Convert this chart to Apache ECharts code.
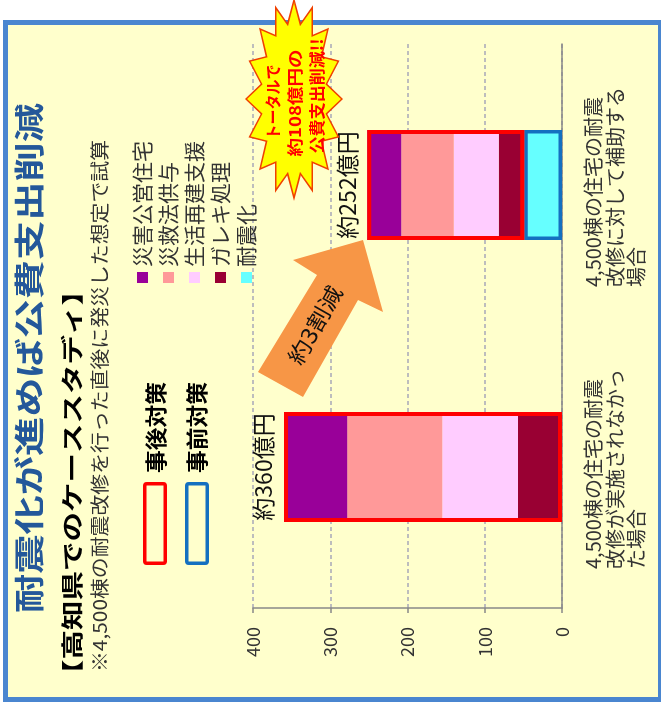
<!DOCTYPE html>
<html><head><meta charset="utf-8">
<script src="https://cdn.jsdelivr.net/npm/echarts@6/dist/echarts.min.js"></script>
<style>
html,body{margin:0;padding:0;background:#fff;overflow:hidden;width:661px;height:709px;}
#rot{position:absolute;left:0;top:0;width:709px;height:661px;transform-origin:0 0;transform:translateY(709px) rotate(-90deg);background:#fff;}
#frame{position:absolute;left:7px;top:3px;width:682px;height:660px;box-sizing:border-box;border:5px solid #4a86d0;background:#ffffcc;}
#chart{position:absolute;left:0;top:0;width:709px;height:661px;}
</style></head><body>
<div id="rot"><div id="frame"></div><div id="chart"></div></div>
<script>
// ---- data ----
const categories = ['4,500棟の住宅の耐震\n改修が実施されなかっ\nた場合', '4,500棟の住宅の耐震\n改修に対して補助する\n場合'];
const legendNames = ['災害公営住宅', '災救法供与', '生活再建支援', 'ガレキ処理', '耐震化'];
const taishinka = [0, 49];      // 耐震化
const gareki = [57, 33];        // ガレキ処理
const seikatsu = [98, 58];      // 生活再建支援
const saikyuho = [123, 68];     // 災救法供与
const saigaiKoei = [82, 44];    // 災害公営住宅
const valueMin = 0, valueMax = 400, valueStep = 100;

const JP = '"Noto Sans CJK JP", sans-serif';
const postSum = gareki.map((v, i) => v + seikatsu[i] + saikyuho[i] + saigaiKoei[i]);
const totals = postSum.map((v, i) => v + taishinka[i]);

const mctx = document.createElement('canvas').getContext('2d');
function fitScale(text, font, target) { mctx.font = font; return target / mctx.measureText(text).width; }
function txt(text, x, y, size, weight, color, target, align, extra) {
  const font = weight + ' ' + size + 'px ' + JP;
  const s = target ? fitScale(text, font, target) : 1;
  return Object.assign({
    type: 'text', x: x, y: y, scaleX: s, z: 100,
    style: { text: text, font: font, fill: color, align: align || 'left', verticalAlign: 'middle' }
  }, extra || {});
}
function starPoints(cx, cy, rxo, ryo, rxi, ryi, n, rot) {
  const pts = [];
  for (let i = 0; i < 2 * n; i++) {
    const a = rot + Math.PI * i / n;
    const o = i % 2 === 0;
    pts.push([cx + Math.cos(a) * (o ? rxo : rxi), cy + Math.sin(a) * (o ? ryo : ryi)]);
  }
  return pts;
}

const chart = echarts.init(document.getElementById('chart'), null, { renderer: 'canvas' });
const barW = 110;
const segColors = { '災害公営住宅': '#990099', '災救法供与': '#ff9999', '生活再建支援': '#ffccff', 'ガレキ処理': '#990033', '耐震化': '#66ffff' };
function seg(name, data, extraStyle) {
  return {
    name: name, type: 'bar', stack: 'main', barWidth: barW, barGap: '-100%',
    data: data.map(v => v === 0 ? { value: 0, itemStyle: { borderWidth: 0 } } : v),
    itemStyle: Object.assign({ color: segColors[name] }, extraStyle || {}),
    emphasis: { disabled: true }
  };
}

chart.setOption({
  animation: false,
  backgroundColor: 'transparent',
  grid: { left: 101, right: 44, top: 253, bottom: 99 },
  legend: {
    data: legendNames, orient: 'vertical', left: 421, top: 127, itemWidth: 11, itemHeight: 11, itemGap: 5,
    icon: 'rect', selectedMode: false, itemStyle: { borderWidth: 0 },
    textStyle: { fontFamily: JP, fontSize: 21, lineHeight: 21, color: '#333' }
  },
  xAxis: {
    type: 'category', data: categories,
    axisLine: { lineStyle: { color: '#888', width: 1.5 } },
    axisTick: { length: 6, lineStyle: { color: '#888', width: 1.5 } },
    axisLabel: {
      interval: 0, margin: 21, color: '#333', fontSize: 20, lineHeight: 21.5, fontFamily: JP,
      formatter: v => v.split('\n').map(s => '{a|' + s + '}').join('\n'),
      rich: { a: { width: 204, align: 'left', fontSize: 20, lineHeight: 21.5, fontFamily: JP, color: '#333' } }
    }
  },
  yAxis: {
    type: 'value', min: valueMin, max: valueMax, interval: valueStep,
    axisLine: { show: true, lineStyle: { color: '#888', width: 1.5 } },
    axisTick: { show: true, length: 5, lineStyle: { color: '#888', width: 1.5 } },
    axisLabel: { margin: 19, fontSize: 18, color: '#333', fontFamily: JP },
    splitLine: { lineStyle: { color: '#a8a8b8', width: 1.5, type: [4, 3] } }
  },
  series: [
    seg('耐震化', taishinka, { borderColor: '#1470c0', borderWidth: 3.5 }),
    seg('ガレキ処理', gareki),
    seg('生活再建支援', seikatsu),
    seg('災救法供与', saikyuho),
    seg('災害公営住宅', saigaiKoei),
    { name: 'base', type: 'bar', stack: 'box', barWidth: barW, barGap: '-100%', silent: true,
      data: taishinka, itemStyle: { color: 'rgba(0,0,0,0)' } },
    { name: '事後対策', type: 'bar', stack: 'box', barWidth: barW, barGap: '-100%', silent: true,
      data: postSum, itemStyle: { color: 'rgba(0,0,0,0)', borderColor: '#ff0000', borderWidth: 4 },
      label: { show: true, position: 'top', distance: 9, fontSize: 23, fontFamily: JP, color: '#111',
        formatter: p => '約' + totals[p.dataIndex] + '億円' } }
  ],
  graphic: { elements: [
    txt('耐震化が進めば公費支出削減', 96, 29, 30, 'bold', '#24589a', 510),
    txt('【高知県でのケーススタディ】', 20, 72, 22, 'bold', '#000', 413),
    txt('※4,500棟の耐震改修を行った直後に発災した想定で試算', 37, 100, 19, 'normal', '#333', 532),
    { type: 'rect', z: 100, shape: { x: 145.75, y: 144.75, width: 79.5, height: 20.5, r: 2 },
      style: { fill: 'none', stroke: '#ff0000', lineWidth: 3.5 } },
    { type: 'rect', z: 100, shape: { x: 145.75, y: 186.75, width: 79.5, height: 20.5, r: 2 },
      style: { fill: 'none', stroke: '#1470c0', lineWidth: 3.5 } },
    txt('事後対策', 236, 156, 22, 'bold', '#000', 91),
    txt('事前対策', 236, 197, 22, 'bold', '#000', 91),
    { type: 'polygon', z: 100,
      shape: { points: [[337, 258], [434, 317], [449, 293], [469, 363], [397, 383], [409, 358], [312, 303]] },
      style: { fill: '#f79646' } },
    txt('約3割減', 384, 315, 22, 'normal', '#111', 86, 'center', { rotation: -0.518 }),
    { type: 'polygon', z: 100,
      shape: { points: starPoints(610, 294, 99, 48, 76, 33, 16, 0) },
      style: { fill: '#ffff00', stroke: '#f04000', lineWidth: 1.5 } },
    txt('トータルで', 607, 273, 16, 'bold', '#ff0000', 75, 'center', { z: 101 }),
    txt('約108億円の', 606, 295, 16, 'bold', '#ff0000', 107, 'center', { z: 101 }),
    txt('公費支出削減!!', 613, 317, 16, 'bold', '#ff0000', 115, 'center', { z: 101 })
  ] }
});
</script>
</body></html>
